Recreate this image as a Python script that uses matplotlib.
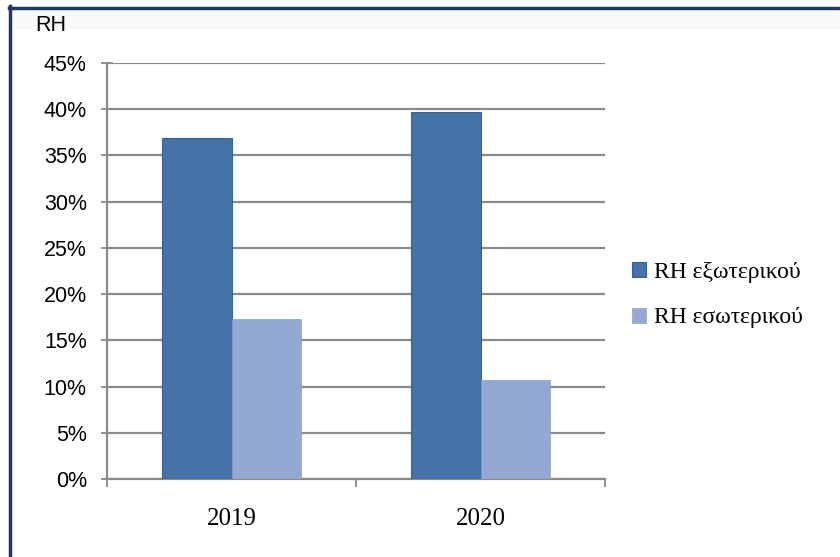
import matplotlib
matplotlib.use("Agg")
import matplotlib.pyplot as plt
import numpy as np
from matplotlib.lines import Line2D
from matplotlib.patches import Rectangle

years = ["2019", "2020"]
series_names = ["RH εξωτερικού", "RH εσωτερικού"]
rh_external = [36.9, 39.7]
rh_internal = [17.3, 10.7]
y_ticks = [0, 5, 10, 15, 20, 25, 30, 35, 40, 45]

dark_blue = "#4572a7"
light_blue = "#93a9d1"
grid_gray = "#8a8a8a"

W, H = 840, 557
fig = plt.figure(figsize=(W / 100, H / 100), dpi=100)
fig.patch.set_facecolor("white")

# faint band across the top and the dark frame on top/left
fig.patches.append(Rectangle((9 / W, 1 - 30 / H), 1, 22 / H, transform=fig.transFigure,
                             facecolor="#fbf9f9", edgecolor="none", zorder=0))
fig.add_artist(Line2D([9 / W, 1], [1 - 7.5 / H, 1 - 7.5 / H], transform=fig.transFigure,
                      color="#1f3b63", lw=2.5))
fig.add_artist(Line2D([9.5 / W, 9.5 / W], [0, 1 - 6 / H], transform=fig.transFigure,
                      color="#1f3b63", lw=2.5))

ax_left, ax_right = 107, 605
ax_top, ax_bottom = 63, 479
ax = fig.add_axes([ax_left / W, 1 - ax_bottom / H, (ax_right - ax_left) / W, (ax_bottom - ax_top) / H])

x = np.arange(len(years))
bw = 0.28
ax.bar(x - bw / 2, rh_external, bw, color=dark_blue, edgecolor="#3a6293", linewidth=0.8,
       label=series_names[0], zorder=3)
ax.bar(x + bw / 2, rh_internal, bw, color=light_blue, edgecolor="#8aa0c8", linewidth=0.5,
       label=series_names[1], zorder=3)

ax.set_xlim(-0.5, 1.5)
ax.set_ylim(0, 45)
ax.set_yticks(y_ticks)
ax.set_yticklabels([f"{v}%" for v in y_ticks], family="Liberation Sans", fontsize=15.5)
ax.yaxis.grid(True, color=grid_gray, linewidth=1.6, zorder=1)
ax.set_axisbelow(True)

# category labels centred, tick marks at the boundaries
ax.set_xticks([-0.5, 0.5, 1.5])
ax.set_xticklabels([])
ax.set_xticks(x, minor=True)
ax.set_xticklabels(years, minor=True, family="Liberation Serif", fontsize=18)
ax.tick_params(axis="x", which="minor", length=0, pad=21)
ax.tick_params(axis="x", which="major", direction="out", length=6, width=1.3, color=grid_gray)
ax.tick_params(axis="y", direction="inout", length=9, width=1.3, color=grid_gray, pad=10)

for side in ["top", "right"]:
    ax.spines[side].set_visible(False)
for side in ["left", "bottom"]:
    ax.spines[side].set_color(grid_gray)
    ax.spines[side].set_linewidth(1.6)

fig.text(35 / W, 1 - 31 / H, "RH", family="Liberation Sans", fontsize=15.5, va="baseline")

handles, labels = ax.get_legend_handles_labels()
fig.legend(handles, labels, loc="center left", bbox_to_anchor=(611 / W, 1 - 295 / H),
           frameon=False, prop={"family": "Liberation Serif", "size": 17},
           handlelength=0.6, handleheight=0.6, handletextpad=0.3, labelspacing=1.05)

fig.savefig("out.png", dpi=100)
